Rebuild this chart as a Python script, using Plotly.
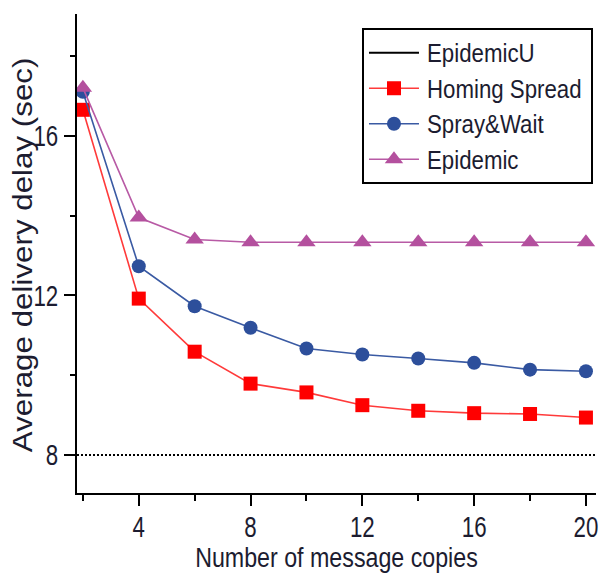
import plotly.graph_objects as go

# Number of message copies
copies = [2, 4, 6, 8, 10, 12, 14, 16, 18, 20]

# Average delivery delay (sec) per scheme
homing_spread = [16.65, 11.92, 10.59, 9.79, 9.57, 9.25, 9.11, 9.05, 9.03, 8.94]
spray_wait = [17.10, 12.73, 11.73, 11.19, 10.67, 10.52, 10.42, 10.31, 10.14, 10.10]
epidemic = [17.20, 13.95, 13.40, 13.33, 13.33, 13.33, 13.33, 13.33, 13.33, 13.33]
epidemic_u = 8.0

FONT = "Liberation Sans, Arial, sans-serif"
TEXT = "#1c1c30"

fig = go.Figure()

# Legend-only entry for the EpidemicU bound (drawn below as a dotted rule)
fig.add_trace(go.Scatter(x=[None], y=[None], mode="lines", name="EpidemicU",
                         line=dict(color="black", width=2)))

fig.add_trace(go.Scatter(
    x=copies, y=homing_spread, name="Homing Spread", mode="lines+markers",
    line=dict(color="#ff3a3a", width=1.6),
    marker=dict(symbol="square", size=14, color="#ff0000", line=dict(width=0))))
fig.add_trace(go.Scatter(
    x=copies, y=spray_wait, name="Spray&Wait", mode="lines+markers",
    line=dict(color="#3a5aa3", width=1.6),
    marker=dict(symbol="circle", size=14, color="#2d4f9b", line=dict(width=0))))
fig.add_trace(go.Scatter(
    x=copies, y=epidemic, name="Epidemic", mode="lines+markers",
    line=dict(color="#b85aa5", width=1.6),
    marker=dict(symbol="triangle-up", size=16, color="#b4509e", line=dict(width=0))))

fig.add_hline(y=epidemic_u, line=dict(color="black", width=2, dash="2px,2px"))

XR = [1.79, 20.36]
YR = [7.05, 19.05]

frame = dict(showgrid=False, zeroline=False, showline=True, automargin=False,
             linecolor="black", linewidth=2, tickcolor="black",
             tickwidth=1.6, ticklen=11)
tickfont = dict(family=FONT, size=29, color=TEXT)


def minor(direction, length):
    return dict(dtick=2, tick0=0, ticks=direction, ticklen=length,
                tickcolor="black", tickwidth=1.6)


fig.update_layout(
    width=601, height=573,
    margin=dict(l=77, r=5, t=14, b=80, autoexpand=False),
    paper_bgcolor="white", plot_bgcolor="white",
    showlegend=True,
    xaxis=dict(range=XR, ticks="outside", tick0=0, dtick=4,
               minor=minor("outside", 6), tickfont=tickfont,
               ticklabeloverflow="allow", ticklabelstandoff=-4,
               title=dict(text="Number of message copies", standoff=9,
                          font=dict(family=FONT, size=27, color=TEXT)),
               **frame),
    yaxis=dict(range=YR, ticks="outside", tick0=0, dtick=4,
               minor=minor("outside", 5), tickfont=tickfont, **frame),
    xaxis2=dict(range=XR, overlaying="x", side="top", ticks="inside",
                tick0=0, dtick=4, showticklabels=False,
                minor=minor("inside", 5), **frame),
    yaxis2=dict(range=YR, overlaying="y", side="right", ticks="inside",
                tick0=0, dtick=4, showticklabels=False,
                minor=minor("inside", 5), **frame),
    legend=dict(x=0.5491, y=0.9708, xanchor="left", yanchor="top",
                bgcolor="white", bordercolor="black", borderwidth=2,
                itemwidth=53, font=dict(family=FONT, size=25, color=TEXT)),
    annotations=[dict(text="Average delivery delay (sec)", textangle=-90,
                      xref="paper", yref="paper", x=-0.104, y=0.497,
                      xanchor="center", yanchor="middle", showarrow=False,
                      font=dict(family=FONT, size=27, color=TEXT))],
)

# Condensed lettering: squeeze labels along their baseline, then tighten the
# legend box and lengthen its line samples.
post = """
var gd = document.getElementById('{plot_id}');
function fit(sel, k) {
  var cut = 0;
  gd.querySelectorAll(sel).forEach(function (t) {
    var w = t.getComputedTextLength();
    t.setAttribute('lengthAdjust', 'spacingAndGlyphs');
    t.setAttribute('textLength', (w * k).toFixed(1));
    cut = Math.max(cut, w - w * k);
  });
  return cut;
}
fit('.xtick text, .ytick text', 0.77);
fit('.g-xtitle text', 0.86);
fit('.annotation-text', 1.16);
var cut = fit('.legendtext', 0.89);
var bg = gd.querySelector('.legend .bg');
if (bg) { bg.setAttribute('width', (parseFloat(bg.getAttribute('width')) - cut + 4).toFixed(1)); }
gd.querySelectorAll('.legend .legendlines path').forEach(function (p) {
  p.setAttribute('d', 'M5,0h50');
});
gd.querySelectorAll('.legend .legendpoints path').forEach(function (p) {
  p.setAttribute('transform', 'translate(30,0)');
});
"""

fig.write_html("out.html", post_script=post)
